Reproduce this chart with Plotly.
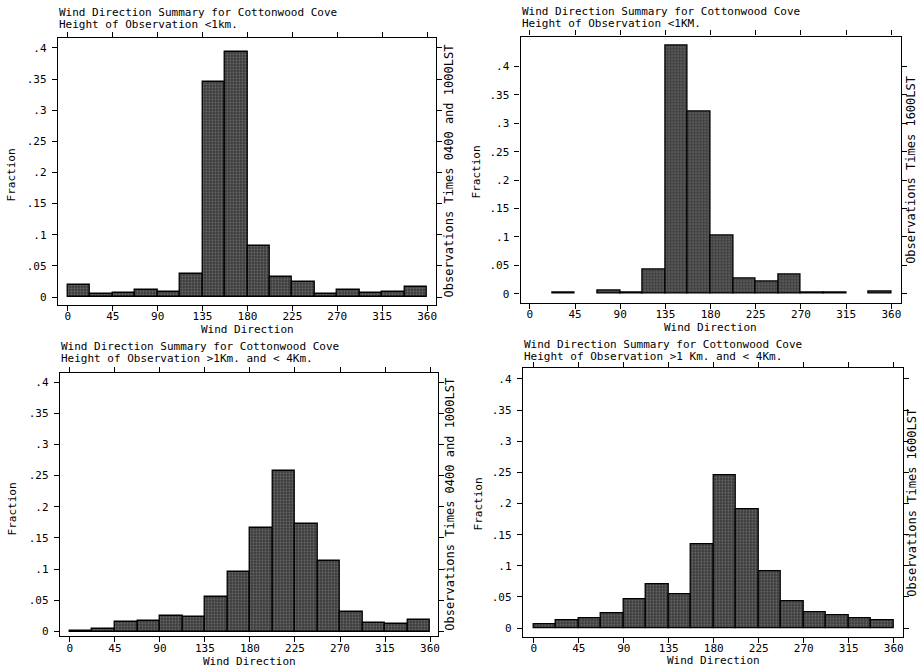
import plotly.graph_objects as go

# ---------------- data ----------------
bin_start = [0, 22.5, 45, 67.5, 90, 112.5, 135, 157.5,
             180, 202.5, 225, 247.5, 270, 292.5, 315, 337.5]
bin_width = 22.5

frac_low_0400_1000 = [0.019, 0.005, 0.007, 0.012, 0.009, 0.037, 0.345, 0.393,
                      0.083, 0.032, 0.024, 0.005, 0.012, 0.007, 0.009, 0.017]
frac_low_1600 = [None, 0.002, None, 0.005, 0.002, 0.042, 0.436, 0.321,
                 0.102, 0.026, 0.021, 0.034, 0.003, 0.003, None, 0.004]
frac_mid_0400_1000 = [0.001, 0.004, 0.015, 0.017, 0.025, 0.023, 0.055, 0.096,
                      0.166, 0.258, 0.172, 0.113, 0.031, 0.014, 0.012, 0.018]
frac_mid_1600 = [0.007, 0.012, 0.016, 0.024, 0.047, 0.070, 0.054, 0.135,
                 0.245, 0.191, 0.092, 0.043, 0.025, 0.021, 0.016, 0.013]

x_ticks = [0, 45, 90, 135, 180, 225, 270, 315, 360]
y_ticks = [0, 0.05, 0.1, 0.15, 0.2, 0.25, 0.3, 0.35, 0.4]
y_tick_labels = ["0", ".05", ".1", ".15", ".2", ".25", ".3", ".35", ".4"]

title_line1 = "Wind Direction Summary for Cottonwood Cove"
height_labels = ["Height of Observation <1km.",
                 "Height of Observation <1KM.",
                 "Height of Observation >1Km. and < 4Km.",
                 "Height of Observation >1 Km. and < 4Km."]
right_labels = ["Observations Times 0400 and 1000LST",
                "Observations Times 1600LST",
                "Observations Times 0400 and 1000LST",
                "Observations Times 1600LST"]
x_title = "Wind Direction"
y_title = "Fraction"

series = [frac_low_0400_1000, frac_low_1600, frac_mid_0400_1000, frac_mid_1600]

# ---------------- layout geometry (pixels) ----------------
W, H = 920, 669
# box L, R, T, B ; pixel of x=0, x=360 ; pixel of y=0, y=0.4
panels = [
    dict(L=58, R=437, T=38, B=306, x0=68, x360=428, y0=298, y4=48,
         tx=57, ty1=13, ty2=25, fy=175, fx=12, wy=330.5, rx=450),
    dict(L=521.7, R=902.7, T=36.7, B=304, x0=531, x360=893.3, y0=294.7, y4=66.7,
         tx=521, ty1=12, ty2=23.5, fy=172, fx=478, wy=328.5, rx=913),
    dict(L=60, R=439, T=374, B=638.3, x0=70, x360=431, y0=633.3, y4=383.3,
         tx=59, ty1=348, ty2=359.5, fy=510, fx=13, wy=663, rx=451),
    dict(L=524, R=905, T=369.3, B=639, x0=535, x360=895.7, y0=630, y4=380,
         tx=523, ty1=346, ty2=357.5, fy=505, fx=480, wy=662.5, rx=914),
]

FONT = "DejaVu Sans Mono"

def px(x):
    return x / W

def py(y):
    return 1 - y / H

fig = go.Figure()
annotations = []

for i, (p, vals) in enumerate(zip(panels, series)):
    n = "" if i == 0 else str(i + 1)
    xs = (p["x360"] - p["x0"]) / 360.0
    ys = (p["y0"] - p["y4"]) / 0.4
    xr = [(p["L"] - p["x0"]) / xs, (p["R"] - p["x0"]) / xs]
    yr = [(p["y0"] - p["B"]) / ys, (p["y0"] - p["T"]) / ys]

    fig.add_trace(go.Bar(
        x=bin_start, y=vals, width=bin_width, offset=0,
        xaxis="x" + n, yaxis="y" + n,
        marker=dict(
            color="#4a4a4a",
            line=dict(color="black", width=1.3),
            pattern=dict(shape=".", fgcolor="#a0a0a0", bgcolor="#3c3c3c",
                         size=3, solidity=0.3),
        ),
        showlegend=False, hoverinfo="x+y",
    ))

    axis_common = dict(showline=True, linecolor="black", linewidth=1.2,
                       mirror="ticks", ticks="outside", ticklen=5,
                       tickcolor="black", tickwidth=1.2, showgrid=False,
                       zeroline=False,
                       tickfont=dict(family=FONT, size=11, color="black"))
    fig.layout["xaxis" + n] = dict(
        axis_common, domain=[px(p["L"]), px(p["R"])], range=xr,
        anchor="y" + n, tickmode="array", tickvals=x_ticks,
        ticklabelstandoff=-4)
    fig.layout["yaxis" + n] = dict(
        axis_common, domain=[py(p["B"]), py(p["T"])], range=yr,
        anchor="x" + n, tickmode="array", tickvals=y_ticks,
        ticktext=y_tick_labels, ticklabelstandoff=3)

    tf = dict(family=FONT, size=11, color="black")
    annotations += [
        dict(text=title_line1, x=px(p["tx"]), y=py(p["ty1"]), xref="paper",
             yref="paper", xanchor="left", yanchor="middle", showarrow=False,
             font=tf),
        dict(text=height_labels[i], x=px(p["tx"]), y=py(p["ty2"]),
             xref="paper", yref="paper", xanchor="left", yanchor="middle",
             showarrow=False, font=tf),
        dict(text=x_title, x=180, xref="x" + n, y=py(p["wy"]), yref="paper",
             xanchor="center", yanchor="middle", showarrow=False, font=tf),
        dict(text=y_title, x=px(p["fx"]), y=py(p["fy"]), xref="paper",
             yref="paper", xanchor="center", yanchor="middle", textangle=-90,
             showarrow=False, font=tf),
        dict(text=right_labels[i], x=px(p["rx"]),
             y=py((p["T"] + p["B"]) / 2), xref="paper", yref="paper",
             xanchor="center", yanchor="middle", textangle=-90,
             showarrow=False, font=dict(family=FONT, size=12, color="black")),
    ]

fig.update_layout(
    width=W, height=H, autosize=False,
    margin=dict(l=0, r=0, t=0, b=0),
    paper_bgcolor="white", plot_bgcolor="white",
    bargap=0, annotations=annotations,
)

fig.write_html("out.html", config={"displayModeBar": False},
               post_script="document.body.style.margin='0';")
